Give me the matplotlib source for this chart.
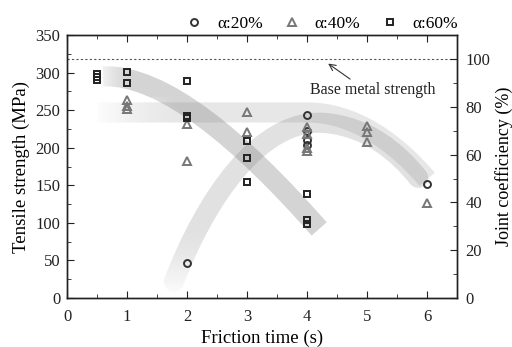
import numpy as np
import matplotlib
matplotlib.use("Agg")
import matplotlib.pyplot as plt
from matplotlib.path import Path
from matplotlib.patches import PathPatch
from matplotlib.lines import Line2D

plt.rcParams['font.family'] = ['Liberation Serif', 'DejaVu Serif']

# measured points (friction time s, tensile strength MPa)
x20 = [2, 4, 4, 4, 4, 6]
y20 = [47, 243, 222, 210, 204, 152]

x40 = [1, 1, 1, 2, 2, 3, 3, 4, 4, 4, 4, 5, 5, 5, 6]
y40 = [264, 256, 252, 232, 182, 248, 221, 227, 218, 200, 196, 229, 221, 208, 126]

x60 = [0.5, 0.5, 0.5, 1, 1, 2, 2, 2, 3, 3, 3, 4, 4, 4]
y60 = [298, 294, 290, 301, 286, 289, 242, 240, 209, 187, 154, 138, 104, 99]

base_strength = 318

# trend band control points (bezier)
band60_pts = [(0.6, 295), (1.6, 298), (2.9, 210), (4.2, 92)]
band60_codes = [Path.MOVETO, Path.CURVE4, Path.CURVE4, Path.CURVE4]
band40_pts = [(0.5, 247), (4.0, 247), (4.8, 247), (5.5, 205), (6.0, 158)]
band40_codes = [Path.MOVETO, Path.LINETO, Path.CURVE4, Path.CURVE4, Path.CURVE4]
band20_pts = [(1.78, 22), (2.3, 130), (3.2, 240), (4.3, 233),
              (5.0, 228), (5.5, 195), (5.85, 160)]
band20_codes = [Path.MOVETO, Path.CURVE4, Path.CURVE4, Path.CURVE4,
                Path.CURVE4, Path.CURVE4, Path.CURVE4]

fig = plt.figure(figsize=(5.12, 3.47), dpi=100)
ax = fig.add_axes([0.131, 0.141, 0.762, 0.758])


def draw_band(pts, codes, shade, alpha, cap='butt'):
    p = PathPatch(Path(pts, codes), fill=False, edgecolor=(shade, shade, shade, alpha),
                  linewidth=14.5, capstyle=cap, zorder=1)
    ax.add_patch(p)


draw_band(band60_pts, band60_codes, 0.4, 0.28)
draw_band(band40_pts, band40_codes, 0.5, 0.19)
draw_band(band20_pts, band20_codes, 0.45, 0.21, cap='round')


def fade(x0, x1, y0, y1, horizontal=True):
    # white veil that fades the start of a band
    n = 64
    ramp = np.linspace(1.0, 0.0, n)
    img = np.ones((n, n, 4))
    if horizontal:
        img[:, :, 3] = ramp[None, :] ** 1.5
    else:
        img[:, :, 3] = ramp[::-1][:, None] ** 1.5
    ax.imshow(img, extent=(x0, x1, y0, y1), origin='upper', aspect='auto',
              interpolation='bilinear', zorder=1.5)


fade(0.45, 1.1, 268, 318)
fade(0.4, 1.9, 226, 266)
fade(1.55, 2.6, 0, 95, horizontal=False)

ax.axhline(base_strength, color='#555555', lw=0.8, ls=(0, (2, 2)), zorder=2)
ax.annotate('Base metal strength', xy=(4.35, 312), xytext=(4.05, 277),
            fontsize=11.5, color='#222222', va='center',
            arrowprops=dict(arrowstyle='->', color='#333333', lw=0.8,
                            shrinkA=0, shrinkB=0, relpos=(0.35, 1.0)))

mk = dict(ls='none', markerfacecolor='none', markeredgewidth=1.4, zorder=3)
ax.plot(x20, y20, marker='o', markersize=5, markeredgecolor='#333333', **mk)
ax.plot(x40, y40, marker='^', markersize=6, markeredgecolor='#777777', **mk)
ax.plot(x60, y60, marker='s', markersize=4.8, markeredgecolor='#222222', **mk)

ax.set_xlim(0, 6.5)
ax.set_ylim(0, 350)
ax.set_xticks(range(0, 7))
ax.set_xticks(np.arange(0.5, 6.5, 1), minor=True)
ax.set_yticks(range(0, 351, 50))
ax.set_yticks(range(25, 350, 50), minor=True)
ax.tick_params(which='both', direction='in', top=True, labelsize=12, colors='#222222')
ax.tick_params(axis='x', pad=8)
ax.tick_params(axis='y', pad=5)
ax.tick_params(which='major', length=5)
ax.tick_params(which='minor', length=3)
ax.set_xlabel('Friction time (s)', fontsize=13.5, labelpad=3)
ax.set_ylabel('Tensile strength (MPa)', fontsize=13.5, labelpad=4)

ax2 = ax.twinx()
ax2.set_ylim(0, 350 / base_strength * 100)
ax2.set_yticks(range(0, 101, 20))
ax2.set_yticks(range(10, 101, 20), minor=True)
ax2.tick_params(which='both', direction='in', labelsize=12, colors='#222222', pad=6)
ax2.tick_params(which='major', length=5)
ax2.tick_params(which='minor', length=3)
ax2.set_ylabel('Joint coefficiency (%)', fontsize=13, labelpad=3)

for a in (ax, ax2):
    for s in a.spines.values():
        s.set_linewidth(1.0)
        s.set_color('#222222')

handles = [
    Line2D([], [], marker='o', markersize=5, markeredgecolor='#333333', **mk),
    Line2D([], [], marker='^', markersize=6, markeredgecolor='#777777', **mk),
    Line2D([], [], marker='s', markersize=4.8, markeredgecolor='#222222', **mk),
]
fig.legend(handles, ['α:20%', 'α:40%', 'α:60%'], loc='center right', ncol=3,
           bbox_to_anchor=(0.895, 0.932), frameon=False, fontsize=12.5,
           handlelength=1.0, handletextpad=0.8, columnspacing=1.2,
           borderpad=0, borderaxespad=0)

fig.savefig('out.png', dpi=100)
